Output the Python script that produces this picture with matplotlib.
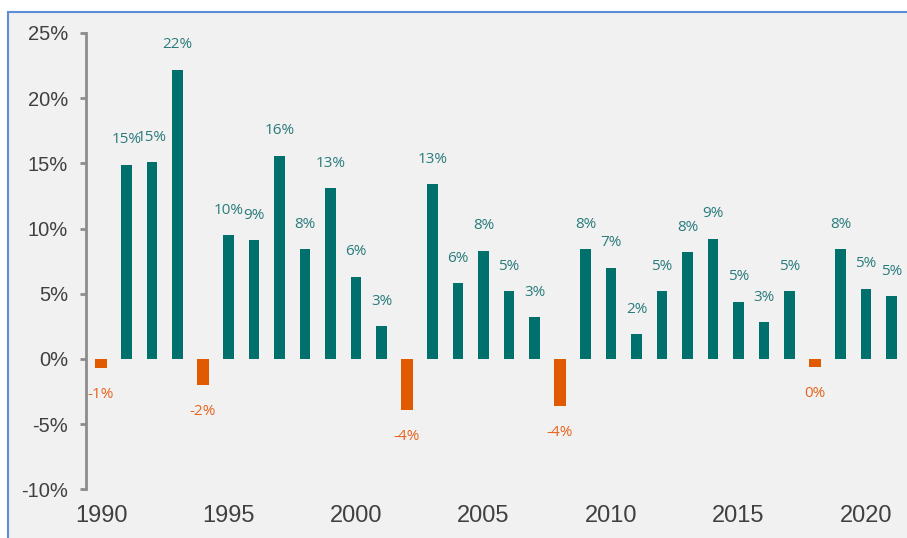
import matplotlib.pyplot as plt
from matplotlib.patches import Rectangle

# annual returns
years = list(range(1990, 2022))
returns = [-0.7, 14.9, 15.1, 22.2, -2.0, 9.5, 9.1, 15.6, 8.4, 13.1,
           6.3, 2.5, -3.9, 13.4, 5.8, 8.3, 5.2, 3.2, -3.6, 8.4,
           7.0, 1.9, 5.2, 8.2, 9.2, 4.4, 2.8, 5.2, -0.6, 8.4,
           5.4, 4.8]
labels = ['-1%', '15%', '15%', '22%', '-2%', '10%', '9%', '16%', '8%', '13%',
          '6%', '3%', '-4%', '13%', '6%', '8%', '5%', '3%', '-4%', '8%',
          '7%', '2%', '5%', '8%', '9%', '5%', '3%', '5%', '0%', '8%',
          '5%', '5%']
yticks = [-10, -5, 0, 5, 10, 15, 20, 25]
xticks = [1990, 1995, 2000, 2005, 2010, 2015, 2020]

teal = '#00706C'
orange = '#E05A00'
teal_txt = '#2A7B7B'
orange_txt = '#E8641E'

fig = plt.figure(figsize=(9.07, 5.38), dpi=100)
fig.patch.set_facecolor('white')

# gray panel with blue frame, cut off at right and bottom
panel = Rectangle((8 / 907, -0.05), 1.05, 1 - 11.5 / 538 + 0.05,
                  transform=fig.transFigure, facecolor='#F1F1F1',
                  edgecolor='#5B8ED6', linewidth=1.5, zorder=-1)
fig.add_artist(panel)

ax = fig.add_axes([86 / 907, (538 - 489.3) / 538, (906.8 - 86) / 907, (489.3 - 33) / 538])
ax.set_facecolor('none')

for yr, val, lab in zip(years, returns, labels):
    if val >= 0:
        ax.bar(yr, val, width=0.42, color=teal, zorder=2)
        ax.annotate(lab, (yr, val), xytext=(0, 18), textcoords='offset points',
                    ha='center', va='center', fontsize=11, color=teal_txt,
                    family='Open Sans')
    else:
        ax.bar(yr, val, width=0.48, color=orange, zorder=2)
        ax.annotate(lab, (yr, val), xytext=(0, -19), textcoords='offset points',
                    ha='center', va='center', fontsize=11, color=orange_txt,
                    family='Open Sans')

ax.set_xlim(1989.41, 2021.6)
ax.set_ylim(-10, 25)
ax.set_yticks(yticks)
ax.set_yticklabels([f'{t}%' for t in yticks])
ax.set_xticks(xticks)

for s in ['top', 'right', 'bottom']:
    ax.spines[s].set_visible(False)
ax.spines['left'].set_color('#8C8C8C')
ax.spines['left'].set_linewidth(2)

ax.tick_params(axis='y', length=4, width=2, color='#8C8C8C', pad=9,
               labelsize=14.5, labelcolor='#404040')
ax.tick_params(axis='x', length=0, pad=11, labelsize=17, labelcolor='#404040')
for t in ax.get_xticklabels() + ax.get_yticklabels():
    t.set_family('Liberation Sans')

fig.savefig('out.png', dpi=100)
